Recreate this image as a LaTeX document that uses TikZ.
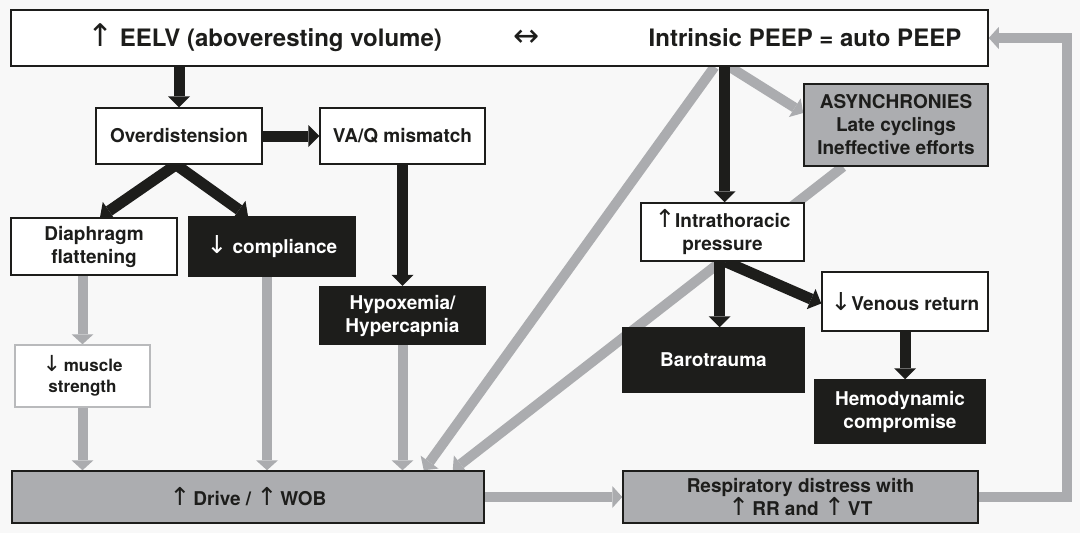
\documentclass[tikz,border=0pt]{standalone}
\usepackage{fontspec}
\setmainfont{TeX Gyre Heros}
\newfontfamily\arrowfont[Scale=1.3]{DejaVu Sans}
\newcommand{\uparr}{{\arrowfont\mdseries ↑}}
\newcommand{\dnarr}{{\arrowfont\mdseries ↓}}
\newcommand{\lrarr}{{\arrowfont\mdseries ↔}}
\usetikzlibrary{arrows.meta, positioning, calc}
\definecolor{InkBlack}{RGB}{29, 29, 27}
\definecolor{ArrowGray}{RGB}{171, 172, 175}
\definecolor{BoxGray}{RGB}{172, 173, 176}
\definecolor{PaleBorder}{RGB}{185, 186, 188}
\definecolor{PageGray}{RGB}{248, 248, 248}
\pgfdeclarelayer{paper}
\pgfdeclarelayer{links}
\pgfsetlayers{paper,links,main}

\begin{document}
\begin{tikzpicture}[x=1pt, y=-1pt,
    box/.style={rectangle, draw=InkBlack, fill=white, line width=1.5pt, align=center, inner sep=2pt, text=InkBlack, font=\fontsize{19}{23}\selectfont\bfseries},
    darkbox/.style={box, fill=InkBlack, text=white},
    graybox/.style={box, fill=BoxGray},
    headline/.style={text=InkBlack, font=\fontsize{24}{29}\selectfont\bfseries},
    blackarrow/.style={draw=InkBlack, line width=11pt, -{Triangle[length=11pt, width=22pt, line width=0pt]}},
    grayarrow/.style={draw=ArrowGray, line width=10pt, -{Triangle[length=10pt, width=22pt, line width=0pt]}}
]
\begin{pgfonlayer}{paper}
\fill[PageGray] (0,0) rectangle (1080,533);
\end{pgfonlayer}

% top band
\node[box, minimum width=977, minimum height=56] (top) at (499.5,38) {};
\node[headline] (eelv) at (264.5,38) {\uparr\ EELV (aboveresting volume)};
\node[headline] (swap) at (527,38) {\lrarr};
\node[headline] (auto) at (805,38) {Intrinsic PEEP = auto PEEP};

% left branch
\node[box, minimum width=166, minimum height=56] (overdist) at (179,136) {Overdistension};
\node[box, minimum width=165, minimum height=56] (vaq) at (402.5,136) {VA/Q mismatch};
\node[box, minimum width=166, minimum height=57] (diaph) at (94,246.5) {Diaphragm\\flattening};
\node[darkbox, minimum width=166, minimum height=59] (compl) at (272,246.5) {\dnarr\ compliance};
\node[darkbox, minimum width=165, minimum height=58] (hypox) at (402.5,315.5) {Hypoxemia/\\Hypercapnia};
\node[box, draw=PaleBorder, minimum width=135, minimum height=62, font=\fontsize{17}{21}\selectfont\bfseries] (muscle) at (82.5,376) {\dnarr\,muscle\\strength};
\node[graybox, minimum width=472, minimum height=52] (drive) at (248,497) {\uparr\,Drive / \uparr\,WOB};

% right branch
\node[graybox, minimum width=184, minimum height=82] (async) at (896,125) {ASYNCHRONIES\\Late cyclings\\Ineffective efforts};
\node[box, minimum width=163, minimum height=58] (intra) at (722.5,232) {\uparr Intrathoracic\\pressure};
\node[box, minimum width=166, minimum height=59] (venous) at (905,301.5) {\dnarr Venous return};
\node[darkbox, minimum width=181, minimum height=64] (baro) at (713.5,360) {Barotrauma};
\node[darkbox, minimum width=170, minimum height=63] (hemo) at (900,411.5) {Hemodynamic\\compromise};
\node[graybox, minimum width=355, minimum height=52] (resp) at (800.5,497) {Respiratory distress with\\\uparr\,RR and \uparr\,VT};

\begin{pgfonlayer}{links}
% gray links
\draw[grayarrow] (muscle.north |- diaph.south) -- (muscle.north);
\draw[grayarrow] (muscle.south) -- (muscle.south |- drive.north);
\draw[grayarrow] ($(compl.south)+(-5,0)$) -- ($(compl.south |- drive.north)+(-5,0)$);
\draw[grayarrow] (hypox.south) -- (hypox.south |- drive.north);
\draw[grayarrow] ($(top.south -| intra.north)+(-8,0)$) -- ($(drive.north east)+(-61,0)$);
\draw[grayarrow] ($(async.south)+(-53,0)$) -- ($(drive.north east)+(-32,0)$);
\draw[grayarrow] ($(top.south -| intra.north)+(7,0)$) -- ($(async.west)+(0,-12)$);
\draw[grayarrow] (drive.east) -- (resp.west);
\draw[grayarrow] (resp.east) -- ++(88,0) |- (top.east);
% black links
\draw[blackarrow] (top.south -| overdist) -- (overdist.north);
\draw[blackarrow] (overdist.east) -- (vaq.west);
\draw[blackarrow] ($(overdist.south)+(-3,0)$) -- ($(diaph.north)+(6,0)$);
\draw[blackarrow] ($(overdist.south)+(-3,0)$) -- ($(compl.north)+(-24,0)$);
\draw[blackarrow] (vaq.south) -- (hypox.north);
\draw[blackarrow] ($(top.south -| intra.north)+(2,0)$) -- ($(intra.north)+(2,0)$);
\draw[blackarrow] ($(intra.south)+(-3,0)$) -- ($(intra.south |- baro.north)+(-3,0)$);
\draw[blackarrow] ($(intra.south)+(3,0)$) -- ($(venous.west)+(0,2)$);
\draw[blackarrow] (venous.south) -- (venous.south |- hemo.north);
\end{pgfonlayer}
\end{tikzpicture}
\end{document}
